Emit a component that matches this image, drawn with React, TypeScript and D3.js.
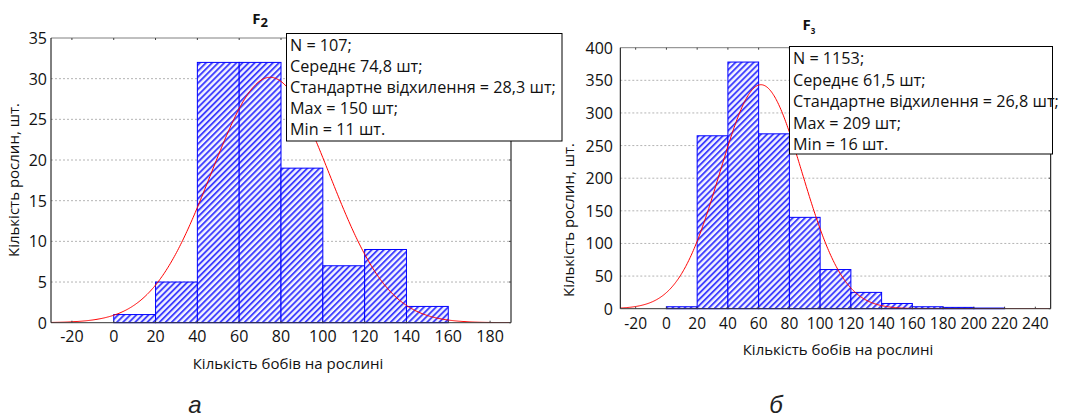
import React from "react";
import * as d3 from "d3";

// ---------- data ----------
const binStartsF2 = [-20, 0, 20, 40, 60, 80, 100, 120, 140];
const countsF2 = [0, 1, 5, 32, 32, 19, 7, 9, 2];
const statsF2 = ["N = 107;", "Середнє 74,8 шт;", "Стандартне відхилення = 28,3 шт;", "Max = 150 шт;", "Min = 11 шт."];
const normF2 = { n: 107, mean: 74.8, sd: 28.3 };
const xTicksF2 = [-20, 0, 20, 40, 60, 80, 100, 120, 140, 160, 180];
const yTicksF2 = [0, 5, 10, 15, 20, 25, 30, 35];

const binStartsF3 = [0, 20, 40, 60, 80, 100, 120, 140, 160, 180, 200];
const countsF3 = [3, 265, 378, 268, 140, 60, 25, 8, 3, 2, 1];
const statsF3 = ["N = 1153;", "Середнє 61,5 шт;", "Стандартне відхилення = 26,8 шт;", "Max = 209 шт;", "Min = 16 шт."];
const normF3 = { n: 1153, mean: 61.5, sd: 26.8 };
const xTicksF3 = [-20, 0, 20, 40, 60, 80, 100, 120, 140, 160, 180, 200, 220, 240];
const yTicksF3 = [0, 50, 100, 150, 200, 250, 300, 350, 400];

const binWidth = 20;
const yTitle = "Кількість рослин, шт.";
const xTitle = "Кількість бобів на рослині";

const FONT = "'Open Sans', 'Noto Sans', sans-serif";

type Cfg = {
  id: string;
  xDomain: [number, number];
  yDomain: [number, number];
  left: number; right: number; top: number; bottom: number;
  binStarts: number[]; counts: number[];
  norm: { n: number; mean: number; sd: number };
  xTicks: number[]; yTicks: number[];
  xLabelY: number; xTitleY: number; xTitleX: number;
  yTitleX: number; yTitleY: number;
  yLabelX: number; tickFont: number;
};

function Histogram({ c }: { c: Cfg }) {
  const x = d3.scaleLinear().domain(c.xDomain).range([c.left, c.right]);
  const y = d3.scaleLinear().domain(c.yDomain).range([c.bottom, c.top]);
  const pts = d3.range(c.xDomain[0], c.xDomain[1] + 0.01, 0.5).map((v) => {
    const z = (v - c.norm.mean) / c.norm.sd;
    const f = (c.norm.n * binWidth) / (c.norm.sd * Math.sqrt(2 * Math.PI)) * Math.exp(-0.5 * z * z);
    return [v, f] as [number, number];
  });
  const line = d3.line<[number, number]>().x((d) => x(d[0])).y((d) => y(d[1]));
  const clipId = "clip-" + c.id;
  return (
    <g>
      <defs>
        <clipPath id={clipId}>
          <rect x={c.left} y={c.top} width={c.right - c.left} height={c.bottom - c.top} />
        </clipPath>
      </defs>
      {c.yTicks.filter((t) => t !== c.yDomain[0] && t !== c.yDomain[1]).map((t) => (
        <line key={"g" + t} x1={c.left} x2={c.right} y1={y(t)} y2={y(t)} stroke="#b4b4b4" strokeWidth={1} strokeDasharray="2,2" />
      ))}
      {c.binStarts.map((b, i) => (
        <rect key={"b" + i} x={x(b)} y={y(c.counts[i])} width={x(b + binWidth) - x(b)} height={y(0) - y(c.counts[i])}
          fill="url(#hatch)" stroke="#0000ff" strokeWidth={1} />
      ))}
      <path d={line(pts) || ""} fill="none" stroke="#ff0000" strokeWidth={1} clipPath={`url(#${clipId})`} />
      <line x1={c.left} x2={c.right} y1={c.top} y2={c.top} stroke="#808080" strokeWidth={1} />
      <line x1={c.left} x2={c.left} y1={c.top} y2={c.bottom} stroke="#000" strokeWidth={1} />
      <line x1={c.right} x2={c.right} y1={c.top} y2={c.bottom} stroke="#000" strokeWidth={1} />
      <line x1={c.left} x2={c.right} y1={c.bottom} y2={c.bottom} stroke="#333" strokeWidth={1} />
      {c.xTicks.map((t) => (
        <g key={"xt" + t}>
          <line x1={x(t)} x2={x(t)} y1={c.top} y2={c.top + 2} stroke="#404040" />
          <line x1={x(t)} x2={x(t)} y1={c.bottom} y2={c.bottom - 2} stroke="#404040" />
        </g>
      ))}
      {c.yTicks.map((t) => (
        <line key={"yt" + t} x1={c.right} x2={c.right - 2} y1={y(t)} y2={y(t)} stroke="#404040" />
      ))}
      {c.xTicks.map((t) => (
        <text key={"xl" + t} x={x(t)} y={c.xLabelY} textAnchor="middle" dominantBaseline="central" fontSize={c.tickFont} fontFamily={FONT} fill="#111">{t}</text>
      ))}
      {c.yTicks.map((t) => (
        <text key={"yl" + t} x={c.yLabelX} y={y(t)} textAnchor="end" dominantBaseline="central" fontSize={16} fontFamily={FONT} fill="#111">{t}</text>
      ))}
      <text x={c.xTitleX} y={c.xTitleY} textAnchor="middle" dominantBaseline="central" fontSize={15} fontFamily={FONT} fill="#111">{xTitle}</text>
      <text transform={`translate(${c.yTitleX},${c.yTitleY}) rotate(-90)`} textAnchor="middle" dominantBaseline="central" fontSize={15} fontFamily={FONT} fill="#111">{yTitle}</text>
    </g>
  );
}

function StatBox({ x, y, w, h, lines, step }: { x: number; y: number; w: number; h: number; lines: string[]; step: number }) {
  return (
    <g>
      <rect x={x} y={y} width={w} height={h} fill="#fff" stroke="#000" strokeWidth={1} />
      {lines.map((l, i) => (
        <text key={i} x={x + 3.5} y={y + 11.5 + i * step} dominantBaseline="central" fontSize={16.2} fontFamily={FONT} fill="#111">{l}</text>
      ))}
    </g>
  );
}

const cfgF2: Cfg = {
  id: "f2", xDomain: [-30, 190], yDomain: [0, 35],
  left: 51, right: 511, top: 38, bottom: 322.7,
  binStarts: binStartsF2, counts: countsF2, norm: normF2,
  xTicks: xTicksF2, yTicks: yTicksF2,
  xLabelY: 336, xTitleY: 363, xTitleX: 288,
  yTitleX: 12.5, yTitleY: 180, yLabelX: 47, tickFont: 16,
};
const cfgF3: Cfg = {
  id: "f3", xDomain: [-30, 250], yDomain: [0, 400],
  left: 620.3, right: 1050.7, top: 47.7, bottom: 308.7,
  binStarts: binStartsF3, counts: countsF3, norm: normF3,
  xTicks: xTicksF3, yTicks: yTicksF3,
  xLabelY: 322.7, xTitleY: 348.5, xTitleX: 838,
  yTitleX: 568, yTitleY: 220, yLabelX: 613, tickFont: 15.5,
};

export default function App() {
  return (
    <svg width={1068} height={417} style={{ position: "absolute", left: 0, top: 0, background: "#fff" }}>
      <defs>
        <pattern id="hatch" patternUnits="userSpaceOnUse" width={4.3} height={4.3} patternTransform="rotate(45)">
          <rect width={4.3} height={4.3} fill="#f4f4ff" />
          <rect width={1.9} height={4.3} fill="#4040ff" />
        </pattern>
      </defs>
      <rect width={1068} height={417} fill="#fff" />
      <Histogram c={cfgF2} />
      <Histogram c={cfgF3} />
      <text x={260} y={18} textAnchor="middle" dominantBaseline="central" fontSize={15} fontWeight="bold" fontFamily={FONT} fill="#111">
        F<tspan fontSize={13} dy={4}>2</tspan>
      </text>
      <text x={809} y={24} textAnchor="middle" dominantBaseline="central" fontSize={15} fontWeight="bold" fontFamily={FONT} fill="#111">
        F<tspan fontSize={8} dy={6}>3</tspan>
      </text>
      <StatBox x={286.5} y={33.5} w={275.5} h={107.5} lines={statsF2} step={21} />
      <StatBox x={789.5} y={46.5} w={263} h={107.5} lines={statsF3} step={21.5} />
      <text x={195} y={413} textAnchor="middle" fontSize={24} fontStyle="italic" fontFamily="'Liberation Sans', Arial, sans-serif" fill="#222">а</text>
      <text x={776} y={413} textAnchor="middle" fontSize={24} fontStyle="italic" fontFamily="'Liberation Sans', Arial, sans-serif" fill="#222">б</text>
    </svg>
  );
}
